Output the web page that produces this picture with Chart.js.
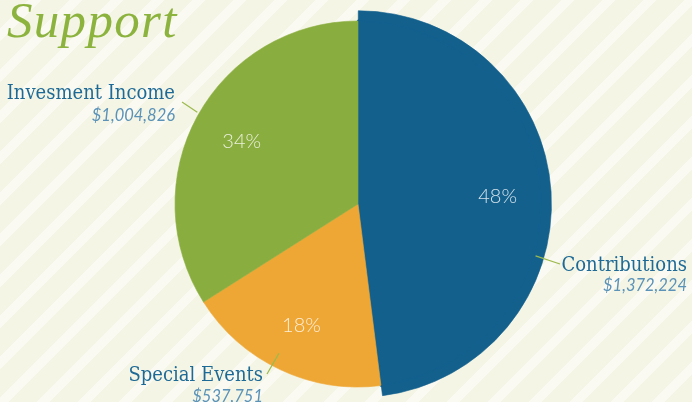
<!DOCTYPE html>
<html>
<head>
<meta charset="utf-8">
<script src="https://cdn.jsdelivr.net/npm/chart.js@4.4.1/dist/chart.umd.min.js"></script>
<style>
  html, body { margin: 0; padding: 0; }
  body {
    width: 692px; height: 402px; overflow: hidden; position: relative;
    background: repeating-linear-gradient(135deg, #f4f5e5 0 20px, #fafaf2 20px 29px);
  }
  #wrap { position: absolute; left: 0; top: 0; width: 692px; height: 402px; }
  .title {
    position: absolute; left: 7px; top: -5px;
    font: italic 51px/50px "Liberation Serif", serif; color: #8db33f; letter-spacing: 1.3px;
    white-space: nowrap;
  }
  .name {
    position: absolute; white-space: nowrap; color: #1e6a96;
    font: 20px/20px "DejaVu Serif Condensed", "DejaVu Serif", serif;
  }
  .amount {
    position: absolute; white-space: nowrap; color: #5a92b8;
    font: italic 400 16.5px/16px Lato, sans-serif;
  }
  .pct {
    position: absolute; white-space: nowrap; color: rgba(255,255,255,0.82);
    font: 300 20px/24px Lato, sans-serif; transform: translate(-50%, -50%);
  }
</style>
</head>
<body>
<div id="wrap"><canvas id="pie" width="692" height="402"></canvas></div>
<div class="title">Support</div>
<div id="labels"></div>
<script>
// ---- data ----
const categories = ['Contributions', 'Special Events', 'Invesment Income'];
const amounts = ['$1,372,224', '$537,751', '$1,004,826'];
const shares = [48, 18, 34];

// ---- style ----
const colors = ['#13608d', '#eea735', '#89ad3e'];
const raised = [true, false, false];          // slice drawn with the larger radius
// label boxes: right edge x, name baseline y, amount baseline y
const labelBoxes = [
  { right: 687, name: 271, amount: 291 },
  { right: 263, name: 381, amount: 402 },
  { right: 175, name: 99, amount: 121 }
];
// leader lines: angle on the pie (deg, clockwise from top), depth inside the edge, outer end
const leaders = [
  { angle: 106.3, depth: 8, to: [560, 264] },
  { angle: 207.9, depth: 14, to: [267, 374] },
  { angle: 299.7, depth: -2, to: [182, 102] }
];

const labelLayer = document.getElementById('labels');
const pctEls = [];
categories.forEach((c, i) => {
  const b = labelBoxes[i];
  const n = document.createElement('div');
  n.className = 'name';
  n.textContent = c;
  n.style.right = (692 - b.right) + 'px';
  n.style.top = (b.name - 17) + 'px';
  labelLayer.appendChild(n);
  const a = document.createElement('div');
  a.className = 'amount';
  a.textContent = amounts[i];
  a.style.right = (692 - b.right) + 'px';
  a.style.top = (b.amount - 14) + 'px';
  labelLayer.appendChild(a);
  const p = document.createElement('div');
  p.className = 'pct';
  p.textContent = shares[i] + '%';
  labelLayer.appendChild(p);
  pctEls.push(p);
});

const sliceLabels = {
  id: 'sliceLabels',
  afterDatasetsDraw(chart) {
    const ctx = chart.ctx;
    const inner = chart.getDatasetMeta(1).data;
    const outer = chart.getDatasetMeta(0).data;
    inner.forEach((arc, i) => {
      const el = raised[i] ? outer[i] : arc;
      const { x, y, startAngle, endAngle, outerRadius } = el.getProps(['x', 'y', 'startAngle', 'endAngle', 'outerRadius'], true);
      const mid = (startAngle + endAngle) / 2;
      const r = outerRadius * 0.725;
      pctEls[i].style.left = (x + Math.cos(mid) * r) + 'px';
      pctEls[i].style.top = (y + Math.sin(mid) * r) + 'px';

      const L = leaders[i];
      const ang = (L.angle - 90) * Math.PI / 180;
      const rr = outerRadius - L.depth;
      ctx.save();
      ctx.strokeStyle = '#9cba4c';
      ctx.lineWidth = 1.2;
      ctx.beginPath();
      ctx.moveTo(x + Math.cos(ang) * rr, y + Math.sin(ang) * rr);
      ctx.lineTo(L.to[0], L.to[1]);
      ctx.stroke();
      ctx.restore();
    });
  }
};

new Chart(document.getElementById('pie'), {
  type: 'pie',
  data: {
    labels: categories,
    datasets: [
      {
        // thin outer ring, only the raised slice is coloured
        data: shares,
        backgroundColor: colors.map((c, i) => raised[i] ? c : 'rgba(0,0,0,0)'),
        borderColor: colors.map((c, i) => raised[i] ? c : 'rgba(0,0,0,0)'),
        borderWidth: 0.6,
        offset: [1, 0, 0],
        weight: 10
      },
      {
        data: shares,
        backgroundColor: colors,
        borderColor: colors,
        borderWidth: colors.map((c, i) => raised[i] ? 3 : 0.6),
        offset: [1, 0, 0],
        weight: 183
      }
    ]
  },
  options: {
    responsive: false,
    animation: false,
    radius: 193,
    layout: { padding: { left: 24, top: 6, right: 0, bottom: 0 } },
    plugins: { legend: { display: false }, tooltip: { enabled: false } },
    events: []
  },
  plugins: [sliceLabels]
});
</script>
</body>
</html>
